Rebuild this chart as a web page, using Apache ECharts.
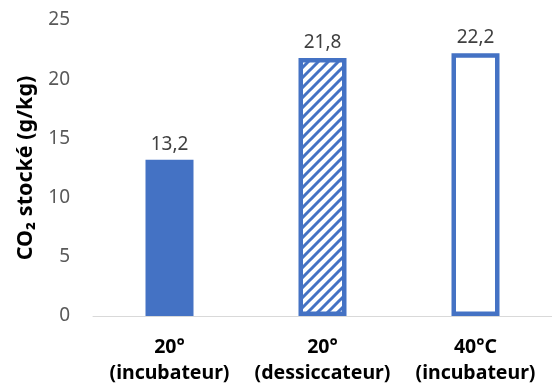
<!DOCTYPE html>
<html><head><meta charset="utf-8">
<script src="https://cdn.jsdelivr.net/npm/echarts@6/dist/echarts.min.js"></script>
<style>html,body{margin:0;padding:0;background:#fff}#c{width:552px;height:390px}</style>
</head><body><div id="c"></div>
<script>
const categories = ['20°\n(incubateur)', '20°\n(dessiccateur)', '40°C\n(incubateur)'];
const values = [13.2, 21.8, 22.2];
const yTicks = [0, 5, 10, 15, 20, 25];

const blue = '#4472C4';
function hatch() {
  const c = document.createElement('canvas');
  c.width = 10; c.height = 10;
  const g = c.getContext('2d');
  g.fillStyle = '#fff'; g.fillRect(0, 0, 10, 10);
  g.strokeStyle = blue; g.lineWidth = 3;
  g.beginPath();
  g.moveTo(-5, 15); g.lineTo(15, -5);
  g.moveTo(-5, 5); g.lineTo(5, -5);
  g.moveTo(5, 15); g.lineTo(15, 5);
  g.stroke();
  return c;
}
const styles = [
  { color: blue, borderWidth: 0 },
  { color: { image: hatch(), repeat: 'repeat' }, borderColor: blue, borderWidth: 4.5 },
  { color: '#fff', borderColor: blue, borderWidth: 4.5 }
];
const F = 'Noto Sans';

const chart = echarts.init(document.getElementById('c'));
chart.setOption({
  animation: false,
  grid: { left: 93, top: 20, width: 466, height: 296, containLabel: false },
  xAxis: {
    type: 'category', data: categories,
    axisLine: { lineStyle: { color: '#d9d9d9', width: 1 } },
    axisTick: { show: false },
    axisLabel: { color: '#000', fontFamily: F, fontWeight: 'bold', fontSize: 19.5, lineHeight: 26, margin: 18, interval: 0 }
  },
  yAxis: {
    type: 'value', min: yTicks[0], max: yTicks[yTicks.length - 1], interval: 5,
    splitLine: { show: false }, axisLine: { show: false }, axisTick: { show: false },
    axisLabel: { color: '#595959', fontFamily: F, fontSize: 19, margin: 23 },
    name: 'CO₂ stocké (g/kg)', nameLocation: 'middle', nameGap: 53,
    nameTextStyle: { color: '#000', fontFamily: F, fontWeight: 'bold', fontSize: 21.5 }
  },
  series: [{
    type: 'bar', barWidth: 48,
    data: values.map((v, i) => ({ value: v, itemStyle: styles[i] })),
    label: {
      show: true, position: 'top', distance: 6, color: '#404040', fontFamily: F, fontSize: 19,
      formatter: p => String(p.value).replace('.', ',')
    }
  }]
});
</script></body></html>
